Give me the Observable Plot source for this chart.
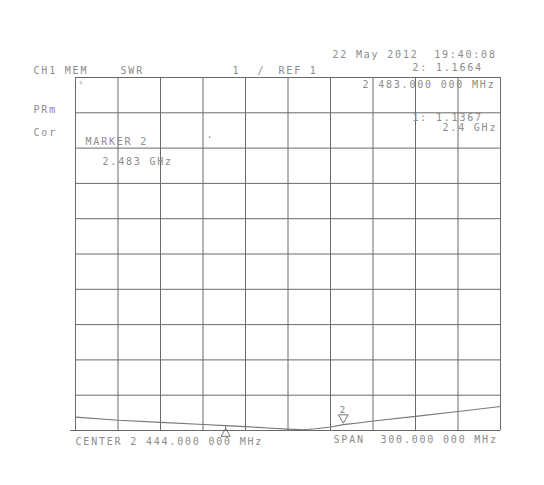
<!DOCTYPE html>
<html><head><meta charset="utf-8">
<script src="https://cdn.jsdelivr.net/npm/d3@7"></script>
<script src="https://cdn.jsdelivr.net/npm/@observablehq/plot@0.6"></script>
<style>
body{margin:0;background:#fff;}
#chart svg{display:block;}
</style>
</head><body><div id="chart"></div>
<script>
// Sweep: CENTER 2.444 GHz, SPAN 300 MHz, SWR 1/div, REF 1
const freqGHz = [2.294, 2.3244, 2.354, 2.3844, 2.400, 2.414, 2.430, 2.444, 2.455, 2.4635, 2.474, 2.483, 2.495, 2.5044, 2.534, 2.564, 2.594];
const swr     = [1.38,  1.29,   1.23,  1.17,   1.137, 1.11,  1.07,  1.04,  1.02,  1.05,   1.10,  1.166, 1.22,  1.27,   1.40,  1.54,  1.68];
const xGrid = [2.294, 2.324, 2.354, 2.384, 2.414, 2.444, 2.474, 2.504, 2.534, 2.564, 2.594];
const yGrid = [1, 2, 3, 4, 5, 6, 7, 8, 9, 10, 11];
const markerFreq = [2.400, 2.483];
const markerSWR  = [1.1367, 1.1664];
const markerNames = ["1", "2"];

const trace = freqGHz.map((f, i) => ({f, s: swr[i]}));
const markers = markerFreq.map((f, i) => ({f, s: markerSWR[i], name: markerNames[i]}));

const ink = "#8c8c8c";
const gridInk = "#6a6a6a";
const font = {fontFamily: "DejaVu Sans Mono", fontSize: 10, fill: ink, lineAnchor: "bottom", textAnchor: "start", frameAnchor: "top-left"};

function label(str, dx, dy, extra = {}) {
  return Plot.text([str], {text: d => d, dx, dy, ...font, ...extra});
}

const chart = Plot.plot({
  width: 544,
  height: 485,
  marginLeft: 75,
  marginRight: 44,
  marginTop: 77,
  marginBottom: 55,
  x: {domain: [xGrid[0], xGrid[xGrid.length - 1]], axis: null},
  y: {domain: [yGrid[0], yGrid[yGrid.length - 1]], axis: null},
  style: {background: "#fff", letterSpacing: "1.8px"},
  marks: [
    Plot.ruleX(xGrid, {stroke: gridInk, strokeWidth: 1}),
    Plot.ruleY(yGrid, {stroke: gridInk, strokeWidth: 1}),
    Plot.ruleY([yGrid[0]], {x1: xGrid[0], x2: xGrid[1], dx: -5, stroke: gridInk, strokeWidth: 1}),
    Plot.line(trace, {x: "f", y: "s", stroke: "#777", strokeWidth: 1.1}),
    // marker 2 (active): ∇ above the trace with its number
    Plot.dot(markers.filter(d => d.name === "2"), {x: "f", y: "s", symbol: "triangle", rotate: 180, r: 3.6, dy: -7, stroke: "#777", fill: "none", strokeWidth: 1}),
    Plot.text(markers.filter(d => d.name === "2"), {x: "f", y: "s", text: "name", dy: -15, fontFamily: "DejaVu Sans Mono", fontSize: 9, fill: "#777"}),
    // marker 1: drawn below the trace
    Plot.dot(markers.filter(d => d.name === "1"), {x: "f", y: "s", symbol: "triangle", r: 3.4, dy: 8, stroke: "#777", fill: "none", strokeWidth: 1}),
    Plot.ruleX(markers.filter(d => d.name === "1"), {x: "f", y1: "s", y2: 1, stroke: "#777", strokeWidth: 1}),
    // header / annotations
    label("CH1 MEM", -42, -4),
    label("SWR", 45, -4),
    label("1", 157, -4),
    label("/", 182, -4),
    label("REF 1", 203, -4),
    label("22 May 2012  19:40:08", 257, -20),
    label("2: 1.1664", 337, -7),
    label("ᵠ", 4, 8, {fontSize: 8}),
    label("2 483.000 000 MHz", 287, 10),
    label("1: 1.1367", 337, 43),
    label("2.4 GHz", 367, 53),
    label("PRm", -42, 35),
    label("Cor", -42, 58),
    label("MARKER 2", 10, 67),
    label("2.483 GHz", 27, 87),
    label("·", 131, 63),
    label("CENTER 2 444.000 000 MHz", 0, 14, {frameAnchor: "bottom-left"}),
    label("SPAN  300.000 000 MHz", 258, 12, {frameAnchor: "bottom-left"})
  ]
});
document.getElementById("chart").append(chart);
</script>
</body></html>
